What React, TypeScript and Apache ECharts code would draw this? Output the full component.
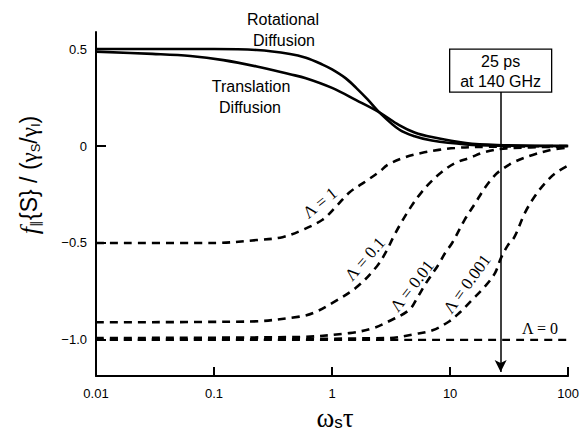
import React, { useEffect, useRef } from "react";
import * as echarts from "echarts";

// ---- data ----
const xTickLabels = ["0.01", "0.1", "1", "10", "100"];
const yTickValues = [0.5, 0, -0.5, -1.0];
const yTickLabels = ["0.5", "0", "\u22120.5", "\u22121.0"];

const rotational: [number, number][] = [
  [0.01, 0.5], [0.1, 0.5], [0.23, 0.495], [0.44, 0.475], [0.6, 0.455], [0.83, 0.42],
  [1.0, 0.395], [1.3, 0.35], [1.6, 0.3], [2.0, 0.24], [2.5, 0.175], [3.7, 0.085],
  [5, 0.05], [7, 0.028], [13.6, 0.008], [25, 0.002], [100, 0],
];
const translation: [number, number][] = [
  [0.01, 0.487], [0.03, 0.475], [0.063, 0.464], [0.12, 0.443], [0.23, 0.41], [0.44, 0.37],
  [0.6, 0.35], [1.0, 0.3], [1.6, 0.237], [2.5, 0.175], [3.7, 0.108], [5, 0.07],
  [7, 0.046], [13.6, 0.015], [25, 0.005], [100, 0],
];
const lambda1: [number, number][] = [
  [0.01, -0.5], [0.1, -0.5], [0.23, -0.485], [0.38, -0.47], [0.56, -0.433], [0.83, -0.38],
  [1.09, -0.31], [1.4, -0.24], [1.95, -0.18], [2.5, -0.134], [3.0, -0.095], [4.2, -0.057],
  [5.7, -0.036], [8, -0.02], [11, -0.01], [17, -0.005], [100, 0],
];
const lambda01: [number, number][] = [
  [0.01, -0.909], [0.2, -0.905], [0.53, -0.88], [0.7, -0.86], [1.0, -0.81], [1.6, -0.73],
  [2.4, -0.62], [2.9, -0.54], [3.3, -0.47], [3.9, -0.39], [4.7, -0.31], [5.7, -0.24],
  [7, -0.18], [8.5, -0.134], [11, -0.088], [14.5, -0.062], [20, -0.03], [30, -0.012], [100, -0.003],
];
const lambda001: [number, number][] = [
  [0.01, -0.99], [0.5, -0.985], [1.4, -0.965], [2.2, -0.94], [3.0, -0.905], [4.5, -0.845],
  [5.3, -0.78], [6.2, -0.71], [8, -0.61], [9.1, -0.55], [10.4, -0.5], [13.3, -0.38],
  [16.5, -0.29], [20, -0.21], [24, -0.15], [27, -0.124], [35, -0.082], [50, -0.046],
  [72, -0.02], [100, -0.008],
];
const lambda0001: [number, number][] = [
  [0.01, -0.999], [3, -0.99], [5, -0.97], [7.1, -0.95], [9.8, -0.905], [12, -0.86],
  [15, -0.8], [20, -0.72], [24, -0.655], [27, -0.577], [31, -0.51], [35, -0.47],
  [43, -0.345], [52, -0.26], [64, -0.19], [78, -0.14], [100, -0.1],
];
const lambda0: [number, number][] = [[0.01, -1.0], [100, -1.0]];

const arrowX = 26.8;
const arrowTop = 0.278;
const arrowBottom = -1.165;
const yMin = -1.186;
const yMax = 0.588;

const dashed = (data: [number, number][], width = 2.6) => ({
  type: "line",
  data,
  showSymbol: false,
  smooth: 0.35,
  lineStyle: { color: "#000", width, type: [8, 6] },
  z: 2,
});

export default function App() {
  const ref = useRef<HTMLDivElement>(null);
  useEffect(() => {
    if (!ref.current) return;
    const chart = echarts.init(ref.current, null, { renderer: "svg" });
    const sans = "Liberation Sans, Arial, sans-serif";
    const serif = "Liberation Serif, Times New Roman, serif";
    chart.setOption({
      animation: false,
      backgroundColor: "#fff",
      grid: { left: 96, right: 12, top: 32, bottom: 60 },
      xAxis: {
        type: "log",
        logBase: 10,
        min: 0.01,
        max: 100,
        axisLine: { onZero: false, lineStyle: { color: "#000", width: 2 } },
        axisTick: { inside: true, length: 9, lineStyle: { color: "#000", width: 2 } },
        minorTick: { show: false },
        splitLine: { show: false },
        axisLabel: {
          color: "#000",
          fontFamily: sans,
          fontSize: 13,
          margin: 11,
          formatter: (v: number) => xTickLabels[Math.round(Math.log10(v)) + 2] ?? "",
        },
      },
      yAxis: {
        type: "value",
        min: yMin,
        max: yMax,
        axisLine: { show: true, onZero: false, lineStyle: { color: "#000", width: 2 } },
        axisTick: {
          show: true,
          inside: true,
          length: 10,
          customValues: yTickValues,
          lineStyle: { color: "#000", width: 2 },
        },
        splitLine: { show: false },
        axisLabel: {
          color: "#000",
          fontFamily: sans,
          fontSize: 13,
          margin: 9,
          customValues: yTickValues,
          formatter: (v: number) => {
            const i = yTickValues.findIndex((t) => Math.abs(t - v) < 1e-6);
            return i >= 0 ? yTickLabels[i] : "";
          },
        },
      },
      series: [
        {
          type: "line",
          data: rotational,
          showSymbol: false,
          smooth: 0.35,
          lineStyle: { color: "#000", width: 2.6 },
          z: 3,
        },
        {
          type: "line",
          data: translation,
          showSymbol: false,
          smooth: 0.35,
          lineStyle: { color: "#000", width: 2.6 },
          z: 3,
        },
        dashed(lambda1),
        dashed(lambda01),
        dashed(lambda001),
        dashed(lambda0001),
        {
          ...dashed(lambda0, 2.2),
          markLine: {
            silent: true,
            symbol: ["none", "arrow"],
            symbolSize: [9, 12],
            label: { show: false },
            lineStyle: { color: "#000", width: 1.5, type: "solid" },
            data: [[{ coord: [arrowX, arrowTop] }, { coord: [arrowX, arrowBottom] }]],
          },
        },
      ],
    });

    const [bx, by] = chart.convertToPixel({ xAxisIndex: 0, yAxisIndex: 0 }, [arrowX, arrowTop]) as number[];
    const lab = (text: string, x: number, y: number, deg: number, size = 17) => ({
      type: "text",
      x,
      y,
      rotation: (deg * Math.PI) / 180,
      style: {
        text,
        fill: "#000",
        font: `${size}px ${serif}`,
        align: "center",
        verticalAlign: "middle",
      },
      z: 10,
    });
    const plain = (text: string, x: number, y: number) => ({
      type: "text",
      x,
      y,
      style: {
        text,
        fill: "#000",
        font: `16px ${sans}`,
        align: "center",
        verticalAlign: "middle",
      },
      z: 10,
    });
    chart.setOption({
      graphic: [
        plain("Rotational", 283, 19),
        plain("Diffusion", 284, 40),
        plain("Translation", 251, 86),
        plain("Diffusion", 250, 107),
        {
          type: "rect",
          shape: { x: bx - 51, y: by - 43, width: 102, height: 43 },
          style: { fill: "#fff", stroke: "#000", lineWidth: 1.3 },
          z: 10,
        },
        plain("25 ps", bx, by - 31),
        plain("at 140 GHz", bx, by - 11),
        lab("\u039b = 1", 320, 203, 39),
        lab("\u039b = 0.1", 365, 259, 49),
        lab("\u039b = 0.01", 412, 286, 52),
        lab("\u039b = 0.001", 467, 284, 54),
        lab("\u039b = 0", 540, 328, 0, 16),
        {
          type: "text",
          x: 29,
          y: 175,
          rotation: Math.PI / 2,
          style: {
            text: "{f|f}{sub|\u2225}{S} / ({g|\u03b3}{sub|S}/{g|\u03b3}{sub|I})",
            fontFamily: sans,
            fontSize: 23,
            fill: "#000",
            lineHeight: 30,
            align: "center",
            verticalAlign: "middle",
            rich: {
              f: { fontFamily: serif, fontStyle: "italic", fontSize: 26, fill: "#000", lineHeight: 30 },
              g: { fontFamily: serif, fontSize: 23, fill: "#000", lineHeight: 30 },
              sub: { fontFamily: sans, fontSize: 13, fill: "#000", lineHeight: 30, padding: [12, 0, 0, 0] },
            },
          },
        },
        {
          type: "text",
          x: 335,
          y: 418,
          style: {
            text: "{g|\u03c9}{sub|s}{g|\u03c4}",
            align: "center",
            verticalAlign: "middle",
            rich: {
              g: { fontFamily: serif, fontSize: 27, fill: "#000", lineHeight: 26 },
              sub: { fontFamily: sans, fontSize: 17, fill: "#000", lineHeight: 26, padding: [9, 0, 0, 0] },
            },
          },
        },
      ],
    });
    return () => chart.dispose();
  }, []);
  return <div ref={ref} style={{ width: 582, height: 436, position: "absolute", left: 0, top: 0 }} />;
}
